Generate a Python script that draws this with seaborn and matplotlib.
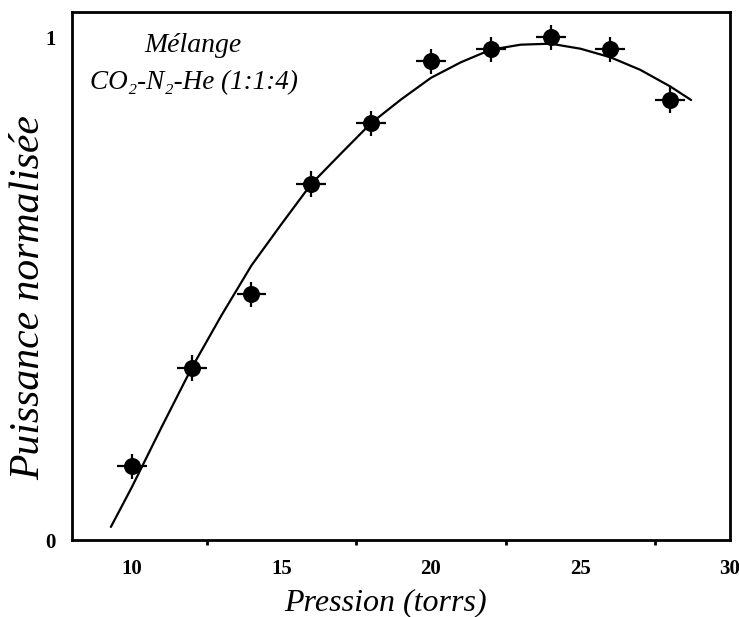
import matplotlib
matplotlib.use("Agg")
import matplotlib.pyplot as plt
import seaborn as sns
import pandas as pd
from matplotlib.ticker import MultipleLocator, FixedLocator

# ---- data ----
pression = [10, 12, 14, 16, 18, 20, 22, 24, 26, 28]
puissance = [0.147, 0.342, 0.489, 0.708, 0.829, 0.952, 0.976, 1.0, 0.976, 0.875]
x_err = [0.5] * len(pression)
y_err = [0.025] * len(pression)

fit_x = [9.3, 10, 11, 12, 13, 14, 15, 16, 17, 18, 19, 20, 21, 22, 23, 24, 25, 26, 27, 28, 28.7]
fit_y = [0.026, 0.105, 0.225, 0.342, 0.447, 0.546, 0.628, 0.708, 0.769, 0.829, 0.876,
         0.919, 0.950, 0.975, 0.985, 0.987, 0.977, 0.960, 0.935, 0.902, 0.875]

x_ticks = [10, 15, 20, 25, 30]
y_ticks = [0, 0.2, 0.4, 0.6, 0.8, 1.0]
y_tick_labels = ["0", "", "", "", "", "1"]

pts = pd.DataFrame({"x": pression, "y": puissance})
fit = pd.DataFrame({"x": fit_x, "y": fit_y})

sns.set_theme(style="white")
plt.rcParams["font.family"] = ["Liberation Serif", "DejaVu Serif"]
plt.rcParams.update({"text.color": "black", "axes.labelcolor": "black",
                     "xtick.color": "black", "ytick.color": "black"})

fig = plt.figure(figsize=(7.39, 6.17), dpi=100)
ax = fig.add_axes([72 / 739, 1 - 540 / 617, (730 - 72) / 739, (540 - 12) / 617])

sns.lineplot(data=fit, x="x", y="y", ax=ax, color="black", linewidth=1.6, sort=False)
ax.errorbar(pression, puissance, xerr=x_err, yerr=y_err, fmt="none",
            ecolor="black", elinewidth=1.6, capsize=0)
sns.scatterplot(data=pts, x="x", y="y", ax=ax, color="black", s=150,
                edgecolor="black", linewidth=0, zorder=5)

ax.set_xlim(8, 30)
ax.set_ylim(0, 1.05)
ax.xaxis.set_major_locator(FixedLocator(x_ticks))
ax.xaxis.set_minor_locator(MultipleLocator(2.5))
ax.yaxis.set_major_locator(FixedLocator(y_ticks))
ax.set_yticklabels(y_tick_labels)

for s in ax.spines.values():
    s.set_linewidth(2.0)
    s.set_color("black")

ax.tick_params(axis="both", which="major", direction="out", length=7, width=2,
               color="black", labelcolor="black", labelsize=15, pad=5)
ax.tick_params(axis="x", which="major", pad=7)
ax.tick_params(axis="x", which="minor", direction="out", length=3.5, width=2,
               color="black", bottom=True)
for lab in ax.get_xticklabels() + ax.get_yticklabels():
    lab.set_fontweight("bold")
    lab.set_family(["Liberation Serif", "DejaVu Serif"])

ax.set_xlabel("Pression (torrs)", fontsize=23, fontstyle="italic", color="black")
ax.xaxis.set_label_coords(0.476, -0.092)
ax.set_ylabel("Puissance normalisée", fontsize=30, fontstyle="italic", va="center",
              color="black")
ax.yaxis.set_label_coords(-0.066, 0.46)

ax.text(0.184, 0.936, "Mélange", transform=ax.transAxes, ha="center", va="center",
        fontsize=20, fontstyle="italic", color="black")
ax.text(0.186, 0.867, "CO₂-N₂-He (1:1:4)", transform=ax.transAxes, ha="center",
        va="center", fontsize=19.5, fontstyle="italic", color="black")

fig.savefig("out.png", dpi=100)
